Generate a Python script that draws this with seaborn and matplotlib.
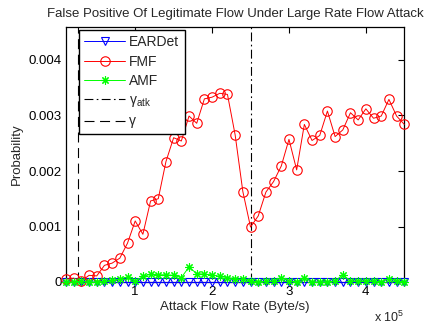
import matplotlib
matplotlib.use("Agg")
import matplotlib.pyplot as plt
from matplotlib.ticker import FuncFormatter, FixedLocator
import pandas as pd
import seaborn as sns

# Attack flow rate (units of 1e4 Byte/s)
rate_1e4 = [1, 2, 3, 4, 5, 6, 7, 8, 9, 10, 11, 12, 13, 14, 15, 16, 17, 18, 19, 20,
            21, 22, 23, 24, 25, 26, 27, 28, 29, 30, 31, 32, 33, 34, 35, 36, 37, 38,
            39, 40, 41, 42, 43, 44, 45]

eardet = [0.0, 0.0, 0.0, 0.0, 0.0, 0.0, 0.0, 0.0, 0.0, 0.0, 0.0, 0.0, 0.0, 0.0,
          0.0, 0.0, 0.0, 0.0, 0.0, 0.0, 0.0, 0.0, 0.0, 0.0, 0.0, 0.0, 0.0, 0.0,
          0.0, 0.0, 0.0, 0.0, 0.0, 0.0, 0.0, 0.0, 0.0, 0.0, 0.0, 0.0, 0.0, 0.0,
          0.0, 0.0, 0.0]

fmf = [0.00005, 0.00007, 0.00002, 0.00012, 0.00011, 0.00030, 0.00034, 0.00043,
       0.00070, 0.00110, 0.00086, 0.00146, 0.00150, 0.00217, 0.00260, 0.00254,
       0.00299, 0.00286, 0.00330, 0.00333, 0.00340, 0.00338, 0.00265, 0.00163,
       0.00099, 0.00119, 0.00162, 0.00181, 0.00209, 0.00257, 0.00202, 0.00284,
       0.00255, 0.00264, 0.00308, 0.00262, 0.00274, 0.00305, 0.00292, 0.00312,
       0.00295, 0.00299, 0.00329, 0.00299, 0.00284]

amf = [0.0, 0.0, 0.00001, 0.0, 0.0, 0.00001, 0.00003, 0.00005, 0.00009, 0.00001,
       0.00010, 0.00014, 0.00013, 0.00013, 0.00012, 0.00008, 0.00027, 0.00015,
       0.00014, 0.00013, 0.00010, 0.00008, 0.00006, 0.00005, 0.00002, 0.0,
       0.00001, 0.00002, 0.00008, 0.00002, 0.0, 0.00008, 0.0, 0.0, 0.0, 0.00002,
       0.00013, 0.00002, 0.00002, 0.00002, 0.00002, 0.0, 0.00006, 0.00002, 0.0]

gamma = 0.25e5
gamma_atk = 2.5e5

x_ticks = [1e5, 2e5, 3e5, 4e5]
y_ticks = [0, 0.001, 0.002, 0.003, 0.004]

rate = [r * 1e4 for r in rate_1e4]
df = pd.DataFrame({"rate": rate, "EARDet": eardet, "FMF": fmf, "AMF": amf})

sns.set_style("white")
plt.rcParams["font.family"] = ["Liberation Sans", "DejaVu Sans"]
plt.rcParams["mathtext.fontset"] = "custom"
plt.rcParams["mathtext.rm"] = "Liberation Sans"
plt.rcParams["mathtext.it"] = "Liberation Sans:italic"
FS = 9.5

fig = plt.figure(figsize=(4.27, 3.26), dpi=100)
ax = fig.add_axes([66 / 427, 1 - 282 / 326, (404.3 - 66) / 427, (282 - 26.7) / 326])

# (column, colour, marker, marker size, filled)
styles = [
    ("EARDet", "#0000ff", "v", 6.0, False),
    ("FMF", "#ff0000", "o", 6.8, False),
    ("AMF", "#00ff00", (8, 2, 0), 6.0, True),
]
for name, col, mk, ms, filled in styles:
    sns.lineplot(data=df, x="rate", y=name, ax=ax, color=col, marker=mk,
                 markersize=ms, markerfacecolor=col if filled else "none",
                 markeredgecolor=col, markeredgewidth=0.8, linewidth=0.7,
                 label=name, clip_on=False, zorder=3)

ax.axvline(gamma_atk, color="black", linestyle=(0, (8, 3, 1.5, 3)), linewidth=0.8,
           label=r"γ$_{\mathrm{atk}}$", zorder=2)
ax.axvline(gamma, color="black", linestyle=(0, (9, 5)), linewidth=0.8,
           label="γ", zorder=2)

ax.set_xlim(0.1e5, 4.5e5)
ax.set_ylim(0, 0.0046)
ax.xaxis.set_major_locator(FixedLocator(x_ticks))
ax.yaxis.set_major_locator(FixedLocator(y_ticks))
ax.xaxis.set_major_formatter(FuncFormatter(lambda v, p: f"{v / 1e5:g}"))
ax.yaxis.set_major_formatter(FuncFormatter(lambda v, p: f"{v:g}" if v else "0"))
ax.tick_params(direction="in", length=4, width=0.8, labelsize=FS, colors="black",
               top=True, right=True, pad=3)
for s in ax.spines.values():
    s.set_color("black")
    s.set_linewidth(0.9)

ax.set_xlabel("Attack Flow Rate (Byte/s)", fontsize=FS, labelpad=2)
ax.set_ylabel("Probability", fontsize=FS, labelpad=4)
ax.set_title("False Positive Of Legitimate Flow Under Large Rate Flow Attack",
             fontsize=FS, pad=7)
ax.text(1.0, -0.138, r"x 10$^{5}$", transform=ax.transAxes, ha="right",
        va="center", fontsize=FS - 0.5)

leg = ax.legend(loc="upper left", bbox_to_anchor=(0.038, 0.988), numpoints=1,
                fontsize=10, frameon=True, fancybox=False, framealpha=1,
                edgecolor="black", handlelength=2.9, handletextpad=0.3,
                labelspacing=0.38, borderpad=0.4, borderaxespad=0)
leg.get_frame().set_linewidth(1.0)

fig.savefig("out.png", dpi=100)
